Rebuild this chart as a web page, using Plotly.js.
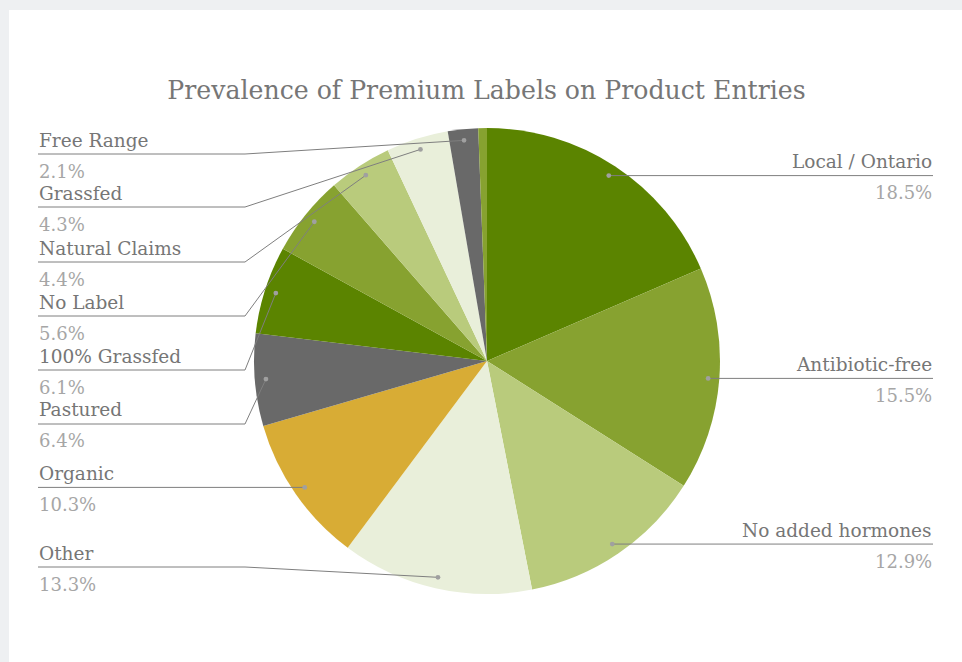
<!DOCTYPE html>
<html><head><meta charset="utf-8">
<script src="https://cdn.plot.ly/plotly-3.0.1.min.js"></script>
<style>html,body{margin:0;padding:0;background:#fff;overflow:hidden}#chart{width:962px;height:662px}</style>
</head><body><div id="chart"></div>
<script>
// ---- data ----
const categories = ["Local / Ontario","Antibiotic-free","No added hormones","Other","Organic","Pastured","100% Grassfed","No Label","Natural Claims","Grassfed","Free Range","Unlabeled remainder"];
const shares = [18.5,15.5,12.9,13.3,10.3,6.4,6.1,5.6,4.4,4.3,2.1,0.6];
const showLabel = [true,true,true,true,true,true,true,true,true,true,true,false];

// ---- styles / layout config ----
const sliceColors = ["#5b8400","#87a230","#b9cb7c","#e9efda","#d8ac35","#696969","#5b8400","#87a230","#b9cb7c","#e9efda","#696969","#87a230"];
const labelSide = ["right","right","right","left","left","left","left","left","left","left","left",null];
const labelLineY = [null,null,null,567,null,424,370,316,262,207,154,null]; // null = level with anchor dot
const W = 962, H = 662;
const PIE = {cx:487, cy:361, r:233};
const ANCHOR_FRAC = 0.952;
const LEFT_X = 38, KNEE_X = 245, RIGHT_X = 933;
const FONT = "DejaVu Serif";

const px = x => x / W, py = y => 1 - y / H;
const total = shares.reduce((a,b)=>a+b,0);

const shapes = [
  {type:'rect', xref:'paper', yref:'paper', x0:0, x1:px(9), y0:0, y1:1, fillcolor:'#eef0f2', line:{width:0}, layer:'below'},
  {type:'rect', xref:'paper', yref:'paper', x0:0, x1:1, y0:py(10), y1:1, fillcolor:'#eef0f2', line:{width:0}, layer:'below'}
];
const annotations = [];
let cum = 0;
shares.forEach((v,i)=>{
  const mid = (cum + v/2) / total; cum += v;
  if(!showLabel[i]) return;
  const th = 2*Math.PI*mid;
  const dx = PIE.cx + ANCHOR_FRAC*PIE.r*Math.sin(th);
  const dy = PIE.cy - ANCHOR_FRAC*PIE.r*Math.cos(th);
  const ly = labelLineY[i] == null ? dy : labelLineY[i];
  let path;
  if(labelSide[i]==='right'){
    path = `M ${px(dx)} ${py(dy)} L ${px(RIGHT_X)} ${py(ly)}`;
  } else if(labelLineY[i]==null){
    path = `M ${px(LEFT_X)} ${py(ly)} L ${px(dx)} ${py(dy)}`;
  } else {
    path = `M ${px(LEFT_X)} ${py(ly)} L ${px(KNEE_X)} ${py(ly)} L ${px(dx)} ${py(dy)}`;
  }
  shapes.push({type:'path', xref:'paper', yref:'paper', path, line:{color:'#7f7f7f', width:1}, layer:'above'});
  shapes.push({type:'circle', xref:'paper', yref:'paper', x0:px(dx-2.4), x1:px(dx+2.4), y0:py(dy+2.4), y1:py(dy-2.4), fillcolor:'#a0a0a0', line:{width:0}, layer:'above'});
  const ax = labelSide[i]==='right' ? px(RIGHT_X+1) : px(LEFT_X-1);
  const xa = labelSide[i]==='right' ? 'right' : 'left';
  annotations.push({xref:'paper', yref:'paper', x:ax, y:py(ly-14), xanchor:xa, yanchor:'middle', showarrow:false,
    text:categories[i], font:{family:FONT, size:18.5, color:'#767676'}});
  annotations.push({xref:'paper', yref:'paper', x:ax, y:py(ly+17), xanchor:xa, yanchor:'middle', showarrow:false,
    text:(v/total*100).toFixed(1)+'%', font:{family:FONT, size:18, color:'#a6a6a6'}});
});

const trace = {
  type:'pie', values:shares, labels:categories, sort:false, direction:'clockwise', rotation:0,
  marker:{colors:sliceColors, line:{width:0}}, textinfo:'none', hoverinfo:'none', showlegend:false,
  domain:{x:[px(PIE.cx-PIE.r), px(PIE.cx+PIE.r)], y:[py(PIE.cy+PIE.r), py(PIE.cy-PIE.r)]}
};
const layout = {
  width:W, height:H, margin:{l:0,r:0,t:0,b:0}, paper_bgcolor:'#ffffff', plot_bgcolor:'#ffffff',
  title:{text:'Prevalence of Premium Labels on Product Entries', font:{family:FONT, size:25.2, color:'#767676'},
    xref:'paper', yref:'paper', x:px(486.5), xanchor:'center', y:py(90), yanchor:'middle'},
  shapes, annotations, showlegend:false
};
Plotly.newPlot('chart',[trace],layout,{displayModeBar:false, staticPlot:true});
</script></body></html>
